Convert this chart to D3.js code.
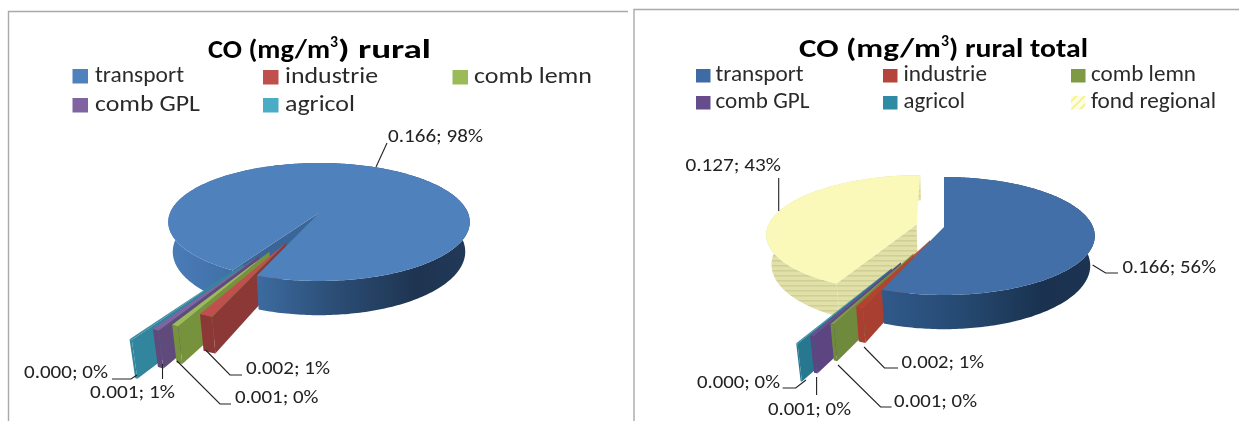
<!DOCTYPE html>
<html><head><meta charset="utf-8">
<style>html,body{margin:0;padding:0;background:#fff}svg{display:block;filter:blur(.5px)}</style>
<script src="https://cdnjs.cloudflare.com/ajax/libs/d3/7.8.5/d3.min.js"></script>
</head><body><svg id="c" width="1239" height="421"></svg>
<script>
const categoriesRural=["transport","industrie","comb lemn","comb GPL","agricol"];
const valuesRural=[0.166,0.002,0.001,0.001,0.0004];
const labelsRural=["0.166; 98%","0.002; 1%","0.001; 0%","0.001; 1%","0.000; 0%"];
const categoriesTotal=["transport","industrie","comb lemn","comb GPL","agricol","fond regional"];
const valuesTotal=[0.166,0.002,0.001,0.001,0.0004,0.127];
const labelsTotal=["0.166; 56%","0.002; 1%","0.001; 0%","0.001; 0%","0.000; 0%","0.127; 43%"];

const font="Carlito, Lato, 'Open Sans', sans-serif";
const svg=d3.select("#c");
const defs=svg.append("defs");
const rad=d=>d*Math.PI/180;
const K=.1525, DEPTH=29, LEAN=.03;
const sxScale=d3.scaleLinear().domain([-1,1]).range([-149,149]);
const syScale=d3.scaleLinear().domain([-1,1]).range([-57.6,57.6]);
const line=d3.line();

function grad(id,x0,x1,stops){
  const g=defs.append("linearGradient").attr("id",id).attr("gradientUnits","userSpaceOnUse")
    .attr("x1",x0).attr("x2",x1).attr("y1",0).attr("y2",0);
  stops.forEach(s=>g.append("stop").attr("offset",s[0]).attr("stop-color",s[1]));
}
const pat=defs.append("pattern").attr("id","stripes").attr("patternUnits","userSpaceOnUse").attr("width",8).attr("height",5);
pat.append("rect").attr("width",8).attr("height",5).attr("fill","#e0e0a8");
pat.append("rect").attr("width",8).attr("height",1.6).attr("fill","#d0d096");
const pat2=defs.append("pattern").attr("id","legendStripes").attr("patternUnits","userSpaceOnUse")
  .attr("width",6).attr("height",6).attr("patternTransform","rotate(45)");
pat2.append("rect").attr("width",6).attr("height",6).attr("fill","#fdfde4");
pat2.append("rect").attr("width",2).attr("height",6).attr("fill","#f6f38a");

function drawPie(cfg){
  const g=svg.append("g");
  const proj=(u,v,low)=>{
    const w=1-K*v;
    let x=sxScale(u)/w, y=syScale(v)/w;
    if(low){ y+=DEPTH/w; x*=1-LEAN; }
    return [cfg.cx+x,cfg.cy+y];
  };
  const arcs=d3.pie().sort(null).startAngle(rad(cfg.start)).endAngle(rad(cfg.start+360))(cfg.values);
  const slices=arcs.map((a,i)=>{
    const mid=(a.startAngle+a.endAngle)/2, e=cfg.explode[i];
    const ou=e*Math.sin(mid), ov=-e*Math.cos(mid);
    const pt=(t,r)=>[ou+r*Math.sin(t),ov-r*Math.cos(t)];
    const n=Math.max(2,Math.ceil((a.endAngle-a.startAngle)/rad(1)));
    const ts=d3.range(n+1).map(k=>a.startAngle+(a.endAngle-a.startAngle)*k/n);
    return {i,ts,pt,a};
  });
  const top=s=>line([proj(...s.pt(0,0)),...s.ts.map(t=>proj(...s.pt(t,1)))])+"Z";
  const rim=(s,ts)=>{
    const up=ts.map(t=>proj(...s.pt(t,1)));
    const dn=ts.map(t=>proj(...s.pt(t,1),true)).reverse();
    return line([...up,...dn])+"Z";
  };
  const edge=s=>{
    const t=s.ts[0];
    return line([proj(...s.pt(0,0)),proj(...s.pt(t,1)),proj(...s.pt(t,1),true),proj(...s.pt(0,0),true)])+"Z";
  };
  const paintRim=(s,ts)=>{ if(ts.length>1) g.append("path").attr("d",rim(s,ts)).attr("fill",cfg.wallCol[s.i]); };
  const wall=s=>{
    g.append("path").attr("d",edge(s)).attr("fill",cfg.edgeCol[s.i]);
    paintRim(s,s.ts);
  };
  const face=s=>g.append("path").attr("d",top(s)).attr("fill",cfg.topCol[s.i]);
  const isRightSide=t=>{const m=((t%(2*Math.PI))+2*Math.PI)%(2*Math.PI);return m<=rad(207);};
  // painter order: background wedge, main wedge left wall, exploded walls, main wedge right wall, tops
  cfg.back.forEach(i=>{wall(slices[i]);face(slices[i]);});
  const main=slices[0];
  g.append("path").attr("d",edge(main)).attr("fill",cfg.edgeCol[0]);
  paintRim(main,main.ts.filter(t=>!isRightSide(t)));
  const small=[4,3,2,1];
  small.forEach(i=>wall(slices[i]));
  paintRim(main,main.ts.filter(isRightSide));
  face(main);
  small.forEach(i=>face(slices[i]));
}

grad("wallL",170,472,[[0,"#4a7cb8"],[.3,"#3c6a9e"],[.55,"#2b4d75"],[.82,"#1e3450"],[1,"#22395a"]]);
grad("wallR",793,1095,[[0,"#35608f"],[.3,"#30598a"],[.55,"#264a72"],[.82,"#1a3250"],[1,"#1c3452"]]);

const colRural=["#4f81bd","#c0504d","#9bbb59","#8064a2","#4bacc6"];
const colTotal=["#426fa8","#b8402f","#7f9a45","#69508f","#2f8aa4","#faf9b9"];

drawPie({cx:319,cy:213,start:210.3,values:valuesRural,explode:[0,.52,.68,.76,.9],back:[],
  topCol:["#4f81bd","#c0504d","#9bbb59","#8064a2","#3b8ba3"],
  wallCol:["url(#wallL)","#8c3836","#76923c","#604a7b","#31859c"],
  edgeCol:["#3a6596","#8c3836","#76923c","#604a7b","#31859c"]});
drawPie({cx:944,cy:227,start:0,values:valuesTotal,explode:[0,.24,.47,.62,.72,.19],back:[5],
  topCol:colTotal,
  wallCol:["url(#wallR)","#a83f30","#6f8a3c","#5c4580","#27788f","url(#stripes)"],
  edgeCol:["#30598a","#a83f30","#6f8a3c","#5c4580","#27788f","url(#stripes)"]});

// frames
svg.append("path").attr("d","M8.5,421V11.5H628").attr("fill","none").attr("stroke","#a9a9a9").attr("stroke-width",1.4);
svg.append("path").attr("d","M634,421V9.5H1239").attr("fill","none").attr("stroke","#a9a9a9").attr("stroke-width",1.4);

function text(str,x0,x1,y,size,opts={}){
  return svg.append("text").attr("x",x0).attr("y",y).attr("font-family",font).attr("font-size",size)
    .attr("font-weight",opts.bold?700:400).attr("fill",opts.fill||"#1a1a1a")
    .attr("textLength",x1-x0).attr("lengthAdjust","spacingAndGlyphs").text(str);
}
text("CO (mg/m",208,330,58,26,{bold:true,fill:"#000"});
text("3",330,338,47,15,{bold:true,fill:"#000"});
text(") rural",338,431,58,26,{bold:true,fill:"#000"});
text("CO (mg/m",799,941,57,26,{bold:true,fill:"#000"});
text("3",941,949,46,15,{bold:true,fill:"#000"});
text(") rural total",949,1088,57,26,{bold:true,fill:"#000"});

function legend(cats,cols,rows,size,mark,textCol){
  cats.forEach((c,i)=>{
    const r=rows[i];
    svg.append("rect").attr("x",r[0]).attr("y",r[3]-mark.dy).attr("width",mark.w).attr("height",mark.h)
       .attr("fill",cols[i]);
    text(c,r[1],r[2],r[3],size,{fill:textCol});
  });
}
legend(categoriesRural,colRural,[[72.5,95,184,82],[263,285,378,83],[452.5,474,592,83],[72.5,95,200,111],[263,285,355,111]],
  23,{w:15.5,h:14.5,dy:13},"#2a2a2a");
legend(categoriesTotal,["#3f6ba5","#b5443a","#7f9a45","#654d8c","#2f8aa4","url(#legendStripes)"],
  [[696,715.5,803.6,81],[883,903.5,987,81],[1071,1091,1196,81],[696,715.5,809.5,108],[883,903.5,965,108],[1071,1091,1216,108]],
  23,{w:14.5,h:13.5,dy:12},"#2a2a2a");

const rural=[[388,483,142],[246,330,374],[235,318.5,403],[90,175,398],[24,108,378]];
rural.forEach((r,i)=>text(labelsRural[i],r[0],r[1],r[2],19,{fill:"#222"}));
const total=[[1122.5,1216,273],[901.5,984,368],[894,977,407],[768,851,415],[697,780,388],[685.5,781,171]];
total.forEach((r,i)=>text(labelsTotal[i],r[0],r[1],r[2],19,{fill:"#222"}));
const leaders=[
 [[387,143],[376,167]],
 [[205.6,350],[230,375],[242,375]],
 [[177,361],[220,404],[231,404]],
 [[162.5,364],[162.5,379]],
 [[137,375],[131,379],[112,379]],
 [[778.7,178],[778.7,211]],
 [[1092.6,265],[1105.6,273],[1118,273]],
 [[864,347],[884.5,368],[898,368]],
 [[838,365],[880.6,407],[891.6,407]],
 [[816.6,377],[816.6,395]],
 [[806,380],[795.7,388],[782.6,388]]
];
leaders.forEach(l=>svg.append("path").attr("d",line(l)).attr("fill","none").attr("stroke","#222").attr("stroke-width",1.1));
</script>
</body></html>
